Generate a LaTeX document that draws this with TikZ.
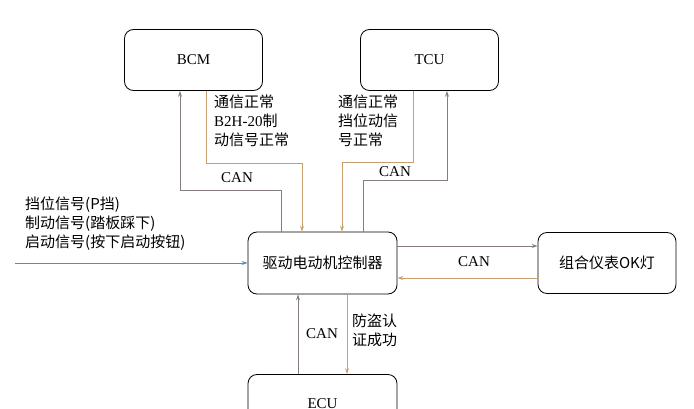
\documentclass[tikz,border=0pt]{standalone}
\usepackage{fontspec}
\setmainfont{Liberation Serif}
\newfontfamily\cjk{Noto Sans CJK SC}
\usetikzlibrary{arrows.meta}
\definecolor{linkgray}{RGB}{135,125,125}
\definecolor{linktan}{RGB}{200,160,112}
\definecolor{linkblue}{RGB}{95,140,170}
\tikzset{
  box/.style={draw, thick, rounded corners=9pt, minimum width=138pt, minimum height=61pt, font=\fontsize{15}{17}\selectfont},
  lab/.style={font=\fontsize{15}{19}\selectfont, align=left, inner sep=0pt},
  sig/.style={-{Stealth[length=6pt,width=4pt]}, thick},
}
\begin{document}
\begin{tikzpicture}[x=1pt,y=-1pt]
\useasboundingbox (0,0) rectangle (694,409);
\node[box] (bcm) at (193.5,60) {BCM};
\node[box] (tcu) at (429.5,60) {TCU};
\node[box, minimum width=149pt, minimum height=62pt] (mcu) at (322.5,263) {\cjk 驱动电动机控制器};
\node[box] (ok) at (607,263) {\cjk 组合仪表OK灯};
\node[box, minimum width=149pt] (ecu) at (322.5,405) {\raisebox{2pt}{ECU}};
%%%%
\draw[sig, linkgray] (mcu.north -| 281,0) |- (180,190) -- (bcm.south -| 180,0);
\draw[sig, linktan] (bcm.south -| 206,0) |- (302,163) -- (mcu.north -| 302,0);
\draw[sig, linktan] (tcu.south -| 413,0) |- (342,162) -- (mcu.north -| 342,0);
\draw[sig, linkgray] (mcu.north -| 363,0) |- (447,180) -- (tcu.south -| 447,0);
\coordinate (in) at (15,263);
\draw[sig, linkblue] (in) -- (mcu.west);
\draw[sig, linkgray] (mcu.east |- 0,246) -- (ok.west |- 0,246);
\draw[sig, linktan] (ok.west |- 0,278) -- (mcu.east |- 0,278);
\draw[sig, linkgray] (ecu.north -| 298,0) -- (mcu.south -| 298,0);
\draw[sig, linktan] (mcu.south -| 347,0) -- (ecu.north -| 347,0);
%%%%
\node[lab, anchor=north west] (bcmtxt) at (214,95) {\cjk 通信正常\\B2H-20\cjk 制\\\cjk 动信号正常};
\node[lab] (bcmcan) at (237,178) {CAN};
\node[lab, anchor=north west] (tcutxt) at (338,95) {\cjk 通信正常\\\cjk 挡位动信\\\cjk 号正常};
\node[lab] (tcucan) at (395,172) {CAN};
\node[lab, anchor=north west] (intxt) at (25,197) {\cjk 挡位信号(P\cjk 挡)\\\cjk 制动信号(踏板踩下)\\\cjk 启动信号(按下启动按钮)};
\node[lab] (okcan) at (474,262) {CAN};
\node[lab] (ecucan) at (322,334) {CAN};
\node[lab, anchor=north west] (ecutxt) at (352,314) {\cjk 防盗认\\\cjk 证成功};
\end{tikzpicture}
\end{document}
